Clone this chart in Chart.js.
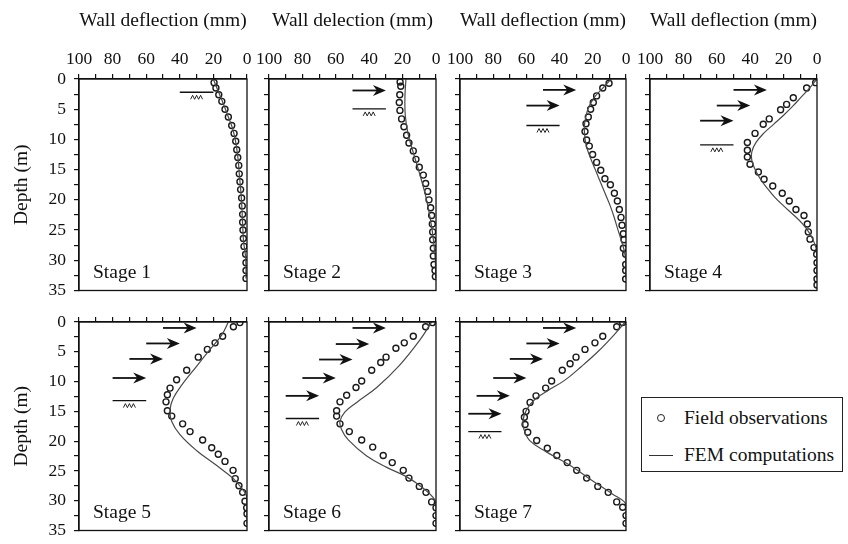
<!DOCTYPE html>
<html lang="en">
<head>
<meta charset="UTF-8">
<title>Wall deflection by stage</title>
<script src="https://cdn.jsdelivr.net/npm/chart.js"></script>
<style>
    body {
        margin: 0;
        width: 848px;
        height: 544px;
        position: relative;
        overflow: hidden;
        background: #fff;
        font-family: 'Liberation Serif', 'Times New Roman', serif;
        color: #111;
    }
    canvas.panel { position: absolute; }
    #legend {
        position: absolute;
        left: 641px; top: 397px;
        width: 200px; height: 73px;
        border: 1px solid #222;
        font-size: 19.5px;
    }
    #legend .row { position: absolute; left: 0; height: 22px; line-height: 22px; width: 100%; }
    #legend .txt { position: absolute; left: 42px; white-space: nowrap; }
    #legend .dot {
        position: absolute; left: 15px; top: 7px;
        width: 6px; height: 6px; border: 1.3px solid #222; border-radius: 50%;
    }
    #legend .dash { position: absolute; left: 7px; top: 11px; width: 24px; border-top: 1.2px solid #333; }
</style>
</head>
<body>

<div id="legend">
    <div class="row" style="top:9px"><span class="dot"></span><span class="txt">Field observations</span></div>
    <div class="row" style="top:46px"><span class="dash"></span><span class="txt">FEM computations</span></div>
</div>

<script>
// ---- data: depth (m) and wall deflection (mm), one set of arrays per stage ----
const obsDepth1 = [0.6, 1.5, 2.6, 3.7, 5.0, 6.3, 7.7, 9.0, 10.3, 11.7, 13.0, 14.3, 15.7, 17.0, 18.3, 19.7, 21.0, 22.4, 23.7, 25.0, 26.4, 27.7, 29.0, 30.4, 31.7, 33.0];
const obsDef1   = [19.6, 18.5, 16.8, 15.0, 13.1, 11.1, 9.1, 7.7, 6.7, 6.1, 5.5, 4.9, 4.6, 4.2, 3.8, 3.2, 2.8, 2.6, 2.6, 2.4, 2.2, 1.8, 0.8, 0.6, 0.6, 0.6];
const femDepth1 = [0, 2, 4, 6, 8, 10, 13, 16, 20, 24, 27, 29, 31, 33];
const femDef1   = [20, 17.2, 14.2, 11.5, 8.8, 7.0, 5.4, 4.5, 3.3, 2.6, 2.0, 1.0, 0.6, 0.6];

const obsDepth2 = [0.5, 1.2, 2.6, 3.9, 5.2, 6.6, 7.9, 9.3, 10.6, 11.9, 13.3, 14.6, 15.9, 17.3, 18.6, 20.0, 21.3, 22.6, 24.0, 25.3, 26.6, 28.0, 29.3, 30.7, 31.7, 32.7];
const obsDef2   = [21.5, 21.1, 21.7, 22.0, 21.6, 20.6, 19.2, 17.6, 16.2, 13.6, 12.0, 10.0, 7.6, 6.2, 5.0, 4.2, 3.2, 2.6, 2.2, 2.0, 2.0, 1.6, 1.6, 1.2, 0.6, 0.4];
const femDepth2 = [0, 3, 6, 9, 12, 15.5, 19, 22, 25, 28, 30, 33];
const femDef2   = [18, 18.6, 18.4, 16.8, 13.8, 10, 6.5, 4.2, 2.3, 1.0, 0.4, 0.2];

const obsDepth3 = [0.7, 1.5, 2.8, 3.9, 5.0, 6.3, 7.4, 8.7, 10.1, 11.1, 12.5, 13.8, 15.1, 16.5, 17.5, 18.9, 20.2, 21.6, 22.9, 24.2, 25.6, 26.6, 28.0, 29.0, 30.7, 31.7, 33.1];
const obsDef3   = [10.2, 14.0, 17.7, 19.7, 21.3, 22.7, 24.1, 24.7, 23.7, 22.1, 20.1, 17.7, 15.2, 12.7, 9.4, 7.0, 5.2, 4.0, 3.0, 2.4, 1.6, 1.2, 1.6, 0.2, 0.2, 0.2, 0.2];
const femDepth3 = [0, 1.5, 3, 5, 7.5, 9, 11, 13, 15, 17, 19, 21, 23, 25, 27, 28.5, 30, 33];
const femDef3   = [9, 14, 19, 23, 25, 25, 24, 21.5, 18.5, 15.5, 12.5, 9.5, 7, 4.8, 2.5, 1, 0.2, 0];

const obsDepth4 = [0.6, 1.5, 3.1, 4.2, 5.1, 6.6, 7.5, 9.0, 10.5, 11.8, 12.9, 14.1, 15.4, 16.6, 17.7, 18.9, 20.2, 21.6, 22.6, 24.0, 25.3, 26.5, 27.9, 29.0, 30.4, 31.7, 33.1, 34.1];
const obsDef4   = [0.8, 6.2, 14.2, 18.2, 21.8, 28.6, 32.2, 37.1, 41.7, 41.7, 41.7, 40.1, 35.1, 31.7, 26.5, 20.8, 16.6, 12.6, 7.8, 5.8, 5.2, 4.2, 1.8, 0.2, 0, 0, 0, 0];
const femDepth4 = [0, 1.5, 3, 4.5, 6, 7.5, 9, 10.5, 12, 13.5, 15, 16.5, 18, 19.5, 21, 22.5, 24, 25.5, 27, 28.5, 33];
const femDef4   = [0, 4.5, 9.5, 14.5, 20, 26, 32, 36.5, 39, 39, 37, 34, 30, 25.5, 20, 14, 8.5, 4.5, 1.8, 0.3, 0];

const obsDepth5 = [0.1, 0.8, 2.4, 3.5, 4.6, 5.9, 8.1, 9.7, 11.1, 12.2, 13.4, 14.9, 15.8, 17.1, 18.4, 19.8, 21.1, 22.2, 23.4, 24.9, 26.3, 27.5, 28.6, 30.1, 31.2, 32.2, 33.8];
const obsDef5   = [4.2, 8.1, 14.5, 19.0, 23.6, 29.0, 35.9, 41.9, 45.8, 47.4, 48.2, 47.4, 44.8, 38.3, 33.9, 26.4, 21.0, 17.1, 13.1, 8.3, 7.0, 4.8, 2.6, 1.2, 0.2, 0, 0];
const femDepth5 = [0, 2.2, 4.6, 7.4, 10.6, 12.8, 14.7, 16.7, 18.9, 21.6, 24.1, 26.3, 27.9, 29.3, 34];
const femDef5   = [11.1, 15.1, 22.0, 29.9, 38.9, 43.9, 45.8, 44.8, 39.9, 29.9, 18.0, 8.1, 3.2, 0.2, 0];

const obsDepth6 = [0.1, 0.8, 2.4, 3.5, 4.4, 5.9, 6.8, 8.1, 9.9, 11.0, 12.3, 13.4, 14.9, 15.8, 17.1, 18.4, 19.8, 21.0, 22.4, 23.6, 24.9, 26.2, 27.6, 28.6, 30.2, 31.2, 32.5, 33.8];
const obsDef6   = [2.2, 6.2, 13.6, 19.0, 24.0, 29.9, 33.1, 38.5, 44.5, 47.9, 53.5, 57.5, 59.5, 59.5, 57.5, 51.9, 44.5, 37.9, 31.6, 26.2, 19.6, 16.2, 10.0, 6.0, 2.6, 0, 0, 0];
const femDepth6 = [0, 3.0, 7.2, 11.0, 13.5, 15.1, 16.7, 18.1, 19.8, 22.5, 24.4, 26.0, 27.9, 29.5, 30.6, 34];
const femDef6   = [2.6, 9.6, 21.6, 35.5, 47.5, 54.5, 57.5, 56.5, 52.5, 41.5, 29.5, 17.5, 7.6, 1.6, 0, 0];

const obsDepth7 = [0.1, 0.8, 2.4, 3.5, 4.6, 5.9, 7.0, 8.1, 9.9, 11.1, 12.4, 13.5, 15.0, 16.0, 17.2, 18.5, 19.9, 21.2, 22.4, 23.6, 24.9, 26.2, 27.6, 28.6, 30.2, 31.1, 32.5, 33.8];
const obsDef7   = [2.0, 5.6, 14.0, 18.7, 24.7, 30.1, 33.7, 38.4, 44.8, 48.4, 54.2, 57.8, 60.2, 61.2, 60.8, 59.2, 53.8, 47.4, 41.7, 35.4, 29.7, 23.7, 17.0, 10.7, 5.6, 2.0, 0, 0];
const femDepth7 = [0, 2.4, 5.0, 7.5, 9.8, 11.5, 13.0, 14.8, 16.5, 18.0, 19.9, 21.8, 24.0, 26.7, 28.9, 30.2, 31, 34];
const femDef7   = [0.5, 8, 17, 27, 37, 47, 55, 60, 62, 61.5, 58, 48, 34, 20, 8, 1, 0, 0];

// struts (arrows): depth, start and end deflection; excavation level with its line span
const strutDepth = [[], [1.9], [1.8, 4.4], [1.8, 4.4, 6.9], [1.0, 3.6, 6.2, 9.4], [1.0, 3.7, 6.3, 9.4, 12.4], [1.0, 3.6, 6.2, 9.4, 12.4, 15.4]];
const strutFrom  = [[], [50], [50, 60], [50, 60, 70], [50, 60, 70, 80], [50, 60, 70, 80, 90], [50, 60, 70, 80, 90, 95]];
const strutTo    = [[], [30], [30, 40], [30, 40, 50], [30, 40, 50, 60], [30, 40, 50, 60, 70], [30, 40, 50, 60, 70, 75]];
const excavDepth = [2.2, 4.95, 7.7, 10.9, 13.2, 16.2, 18.4];
const excavFrom  = [40, 50, 60, 70, 80, 90, 95];
const excavTo    = [20, 30, 40, 50, 60, 70, 75];

const stageNames = ['Stage 1', 'Stage 2', 'Stage 3', 'Stage 4', 'Stage 5', 'Stage 6', 'Stage 7'];
const xTitles = ['Wall deflection (mm)', 'Wall delection (mm)', 'Wall deflection (mm)', 'Wall deflection (mm)'];
const xTicks = [0, 20, 40, 60, 80, 100];
const yTicks = [0, 5, 10, 15, 20, 25, 30, 35];

const obsDepth = [obsDepth1, obsDepth2, obsDepth3, obsDepth4, obsDepth5, obsDepth6, obsDepth7];
const obsDef = [obsDef1, obsDef2, obsDef3, obsDef4, obsDef5, obsDef6, obsDef7];
const femDepth = [femDepth1, femDepth2, femDepth3, femDepth4, femDepth5, femDepth6, femDepth7];
const femDef = [femDef1, femDef2, femDef3, femDef4, femDef5, femDef6, femDef7];

// panel plot areas on the page
const boxes = [
    { L: 79, R: 247, T: 79, B: 297 },
    { L: 269, R: 436, T: 79, B: 297 },
    { L: 460, R: 626, T: 79, B: 297 },
    { L: 650, R: 817, T: 79, B: 297 },
    { L: 79, R: 247, T: 322, B: 537 },
    { L: 269, R: 436, T: 322, B: 537 },
    { L: 460, R: 626, T: 322, B: 537 }
];
const M = 80;  // room reserved for axis labels / titles
const INK = '#111';
const serif = "'Liberation Serif', 'Times New Roman', serif";

function pts(xs, ys) {
    return xs.map((v, k) => ({ x: v, y: ys[k] }));
}

function drawArrow(ctx, x1, x2, y) {
    ctx.beginPath();
    ctx.moveTo(x1, y);
    ctx.lineTo(x2 - 6, y);
    ctx.lineWidth = 1.8;
    ctx.stroke();
    ctx.beginPath();
    ctx.moveTo(x2, y);
    ctx.lineTo(x2 - 13, y - 5.5);
    ctx.lineTo(x2 - 9, y);
    ctx.lineTo(x2 - 13, y + 5.5);
    ctx.closePath();
    ctx.fill();
}

function drawGround(ctx, x1, x2, y) {
    ctx.beginPath();
    ctx.moveTo(x1, y);
    ctx.lineTo(x2, y);
    ctx.lineWidth = 1.4;
    ctx.stroke();
    const cx = (x1 + x2) / 2;
    ctx.beginPath();
    ctx.lineWidth = 0.9;
    ctx.moveTo(cx - 6, y + 7);
    ctx.lineTo(cx - 4, y + 3);
    ctx.lineTo(cx - 2, y + 7);
    ctx.lineTo(cx, y + 3);
    ctx.lineTo(cx + 2, y + 7);
    ctx.lineTo(cx + 4, y + 3);
    ctx.lineTo(cx + 6, y + 7);
    ctx.stroke();
}

const extras = {
    id: 'extras',
    afterDraw(chart) {
        const i = chart.options.stageIndex;
        const { ctx, chartArea: a } = chart;
        const sx = chart.scales.x, sy = chart.scales.y;
        ctx.save();
        ctx.strokeStyle = INK;
        ctx.fillStyle = INK;
        ctx.lineWidth = 1.3;
        ctx.strokeRect(a.left, a.top, a.right - a.left, a.bottom - a.top);

        strutDepth[i].forEach((d, k) => {
            drawArrow(ctx, sx.getPixelForValue(strutFrom[i][k]), sx.getPixelForValue(strutTo[i][k]), sy.getPixelForValue(d));
        });
        drawGround(ctx, sx.getPixelForValue(excavFrom[i]), sx.getPixelForValue(excavTo[i]), sy.getPixelForValue(excavDepth[i]));

        ctx.font = '19.5px ' + serif;
        ctx.textBaseline = 'alphabetic';
        ctx.fillText(stageNames[i], a.left + 14, a.bottom - 13);
        ctx.restore();
    }
};

boxes.forEach((p, i) => {
    const topRow = i < 4;
    const leftCol = i === 0 || i === 4;
    const canvas = document.createElement('canvas');
    canvas.className = 'panel';
    canvas.width = (p.R - p.L) + M + 20;
    canvas.height = (p.B - p.T) + M + 12;
    canvas.style.left = (p.L - M) + 'px';
    canvas.style.top = (p.T - M) + 'px';
    document.body.appendChild(canvas);

    new Chart(canvas, {
        type: 'scatter',
        data: {
            datasets: [
                {
                    label: 'FEM computations',
                    data: pts(femDef[i], femDepth[i]),
                    showLine: true,
                    tension: 0.4,
                    borderColor: '#4a4a4a',
                    borderWidth: 1.2,
                    pointRadius: 0
                },
                {
                    label: 'Field observations',
                    data: pts(obsDef[i], obsDepth[i]),
                    pointRadius: 3,
                    pointBorderWidth: 1.4,
                    borderColor: '#1a1a1a',
                    backgroundColor: 'rgba(0,0,0,0)'
                }
            ]
        },
        options: {
            stageIndex: i,
            responsive: false,
            animation: false,
            devicePixelRatio: 1,
            layout: { padding: { left: 0, top: 0, right: 20, bottom: 12 } },
            plugins: { legend: { display: false }, tooltip: { enabled: false } },
            scales: {
                x: {
                    type: 'linear',
                    position: 'top',
                    reverse: true,
                    min: 0,
                    max: 100,
                    ticks: {
                        stepSize: 10,
                        autoSkip: false,
                        maxRotation: 0,
                        padding: 4,
                        color: INK,
                        font: { family: serif, size: 17.5 },
                        callback: v => (topRow && xTicks.includes(v)) ? v : ''
                    },
                    grid: { drawOnChartArea: false, drawTicks: true, tickLength: 5, color: INK, lineWidth: 1.2 },
                    border: { display: true, color: INK, width: 1.3 },
                    title: {
                        display: topRow,
                        text: topRow ? xTitles[i] : '',
                        color: INK,
                        font: { family: serif, size: 19.5 },
                        padding: { top: 10, bottom: 0 }
                    },
                    afterFit: s => { s.height = M; }
                },
                y: {
                    type: 'linear',
                    reverse: true,
                    min: 0,
                    max: 35,
                    ticks: {
                        stepSize: 2.5,
                        autoSkip: false,
                        padding: 8,
                        color: INK,
                        font: { family: serif, size: 17.5 },
                        callback: v => (leftCol && yTicks.includes(v)) ? v : ''
                    },
                    grid: { drawOnChartArea: false, drawTicks: true, tickLength: 5, color: INK, lineWidth: 1.2 },
                    border: { display: true, color: INK, width: 1.3 },
                    title: {
                        display: leftCol,
                        text: 'Depth (m)',
                        color: INK,
                        font: { family: serif, size: 19.5 },
                        padding: { top: 11, bottom: 0 }
                    },
                    afterFit: s => { s.width = M; }
                }
            }
        },
        plugins: [extras]
    });
});
</script>
</body>
</html>
